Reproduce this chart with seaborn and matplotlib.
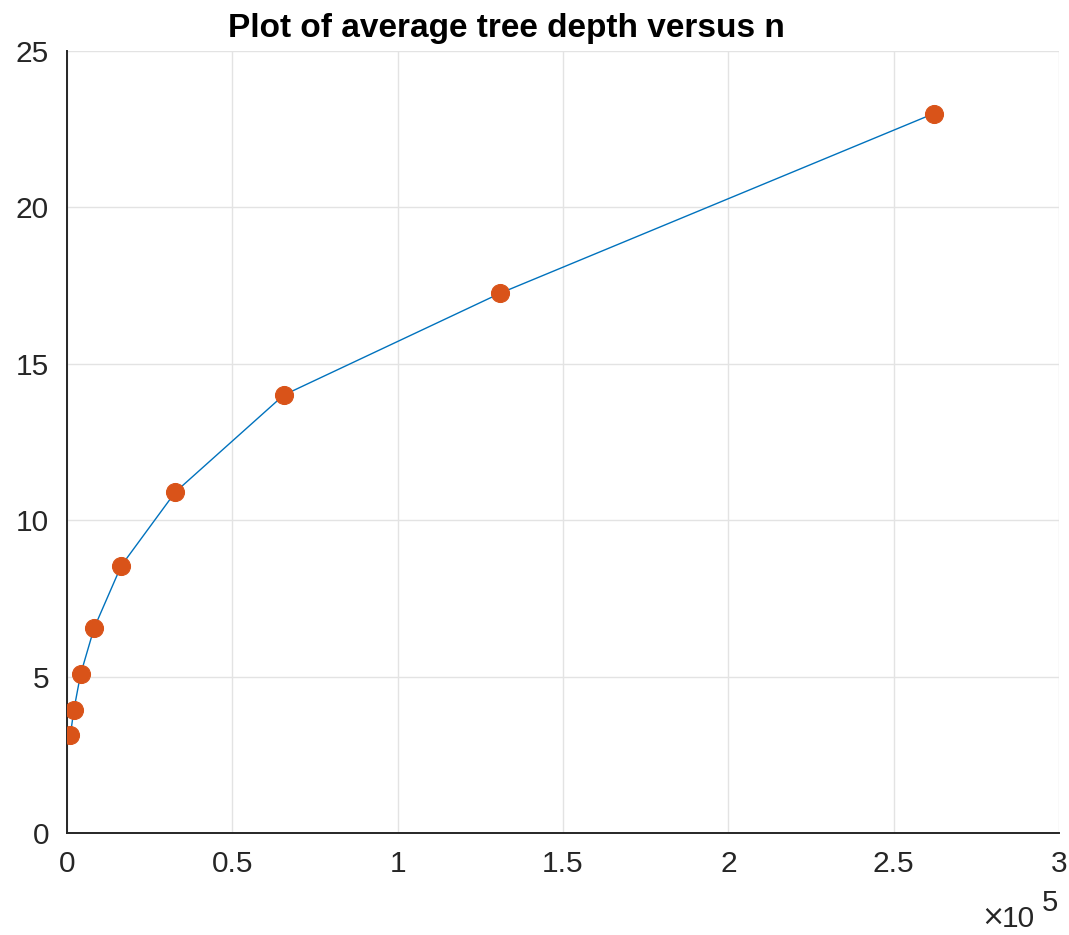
import numpy as np
import pandas as pd
import matplotlib
matplotlib.use("Agg")
import matplotlib.pyplot as plt
import seaborn as sns
from matplotlib.ticker import FuncFormatter

# Data
n_values = [1024, 2048, 4096, 8192, 16384, 32768, 65536, 131072, 262144]
avg_depth = [3.13, 3.92, 5.07, 6.55, 8.54, 10.90, 14.0, 17.26, 23.0]
x_ticks = [0, 0.5e5, 1e5, 1.5e5, 2e5, 2.5e5, 3e5]
y_ticks = [0, 5, 10, 15, 20, 25]
title = "Plot of average tree depth versus n"

sns.set_style("white")
plt.rcParams['font.family'] = ['Liberation Sans', 'DejaVu Sans']

df = pd.DataFrame({"n": n_values, "depth": avg_depth})

fig = plt.figure(figsize=(10.69, 9.35), dpi=100)
ax = fig.add_axes([67/1069, 1 - 833/935, (1059-67)/1069, (833-51)/935])

sns.lineplot(data=df, x="n", y="depth", ax=ax, color="#0072BD", linewidth=1.0,
             marker="o", markersize=13, markerfacecolor="#D95319",
             markeredgecolor="#D95319", zorder=3)

ax.set_xlim(0, 3e5)
ax.set_ylim(0, 25)
ax.set_xticks(x_ticks)
ax.set_yticks(y_ticks)
ax.xaxis.set_major_formatter(FuncFormatter(lambda v, p: f"{v/1e5:g}"))
ax.grid(True, color="#e3e3e3", linewidth=1.0)
ax.set_axisbelow(True)

for s in ["top", "right"]:
    ax.spines[s].set_visible(False)
for s in ["left", "bottom"]:
    ax.spines[s].set_color("#262626")
    ax.spines[s].set_linewidth(1.4)

ax.tick_params(axis="both", direction="in", length=8, width=1.4, color="#262626",
               labelsize=21.5, labelcolor="#262626")
ax.tick_params(axis="y", pad=13)
ax.tick_params(axis="x", pad=12)
ax.set_xlabel("")
ax.set_ylabel("")

fig.text(506/1069, 1 - 37/935, title, fontsize=24, fontweight="bold", color="black",
         ha="center", va="baseline")

fig.text(981/1069, 1 - 925/935, "\u00d7", fontsize=20, color="#262626",
         ha="left", va="baseline", family="DejaVu Sans")
fig.text(1002/1069, 1 - 927/935, "10", fontsize=21.5, color="#262626",
         ha="left", va="baseline")
fig.text(1042/1069, 1 - 911/935, "5", fontsize=21, color="#262626",
         ha="left", va="baseline")

fig.savefig("out.png", dpi=100)
